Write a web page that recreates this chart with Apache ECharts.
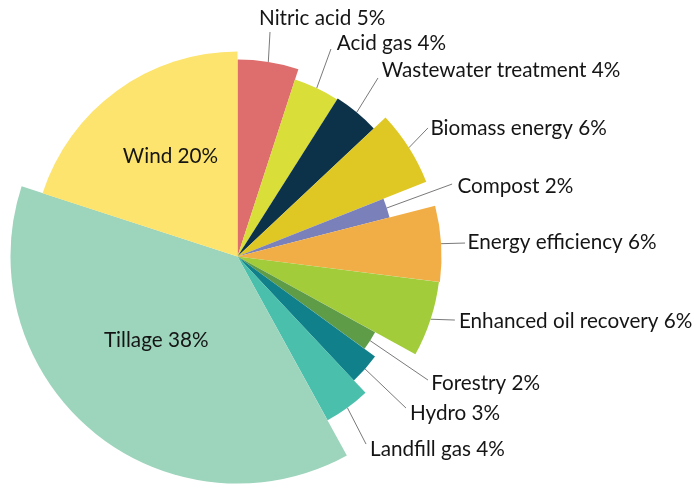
<!DOCTYPE html>
<html>
<head>
<meta charset="utf-8">
<script src="https://cdn.jsdelivr.net/npm/echarts@6/dist/echarts.min.js"></script>
<style>
  html, body { margin: 0; padding: 0; background: #ffffff; }
  #chart { width: 693px; height: 484px; }
</style>
</head>
<body>
<div id="chart"></div>
<script>
// Sources, clockwise from 12 o'clock, with their share in percent
const categories = [
  'Nitric acid', 'Acid gas', 'Wastewater treatment', 'Biomass energy',
  'Compost', 'Energy efficiency', 'Enhanced oil recovery', 'Forestry',
  'Hydro', 'Landfill gas', 'Tillage', 'Wind'
];
const shares = [5, 4, 4, 6, 2, 6, 6, 2, 3, 4, 38, 20];

// Styling: slice colours, outer radius of each slice (px)
const sliceColors = [
  '#de6e6e', '#d9de38', '#0c324a', '#dfc724',
  '#7a80b9', '#f2ae46', '#a2cc3a', '#5e9c48',
  '#10808a', '#4ac0ac', '#9cd4bc', '#fce46e'
];
const sliceRadius = [197, 186, 187, 203, 157, 204, 203, 157, 170, 187, 227, 205];
const insideLabel = [false, false, false, false, false, false, false, false, false, false, true, true];
// Label nudges [dx, dy] from the default label position
const labelNudge = [
  [-19, -13.5], [-2.5, -7.8], [-5.5, -11.6], [-3.7, -6.1], [-1, 0], [-1.5, 0],
  [0.5, -5.6], [-3, 4.7], [-2.8, 6.9], [-5.9, 9.1], [-7, -6], [-5, -14.5]
];
// Where each leader line stops, relative to its label's left-middle point
const lineTip = [
  [11, 13.2], [-5.7, 5.7], [-3.7, 8], [-2.5, -0.8], [-5.3, -2.3], [-2.5, 0.8],
  [-4, -1], [-3.2, -2.8], [-4, -5.5], [-4, -5.2], null, null
];
const labelLineEnd = 227; // radius where default leader lines stop

const CENTER = [237.5, 256.5];
const FONT = 'Lato, "Open Sans", sans-serif';

const chart = echarts.init(document.getElementById('chart'), null, { renderer: 'canvas' });

// One pie per slice so every slice can have its own radius;
// the other slices of that pie are left transparent.
const series = categories.map((cat, i) => ({
  type: 'pie',
  center: CENTER,
  radius: [0, sliceRadius[i]],
  startAngle: 90,
  clockwise: true,
  avoidLabelOverlap: false,
  silent: true,
  animation: false,
  z: 2,
  label: { show: false },
  labelLine: { show: false },
  data: categories.map((name, j) => {
    if (j !== i) {
      return {
        name, value: shares[j],
        itemStyle: { color: 'rgba(0,0,0,0)' },
        label: { show: false }, labelLine: { show: false }
      };
    }
    return {
      name, value: shares[j],
      itemStyle: { color: sliceColors[j], borderWidth: 0 },
      label: {
        show: true,
        position: insideLabel[j] ? 'inside' : 'outside',
        formatter: '{b} {c}%',
        color: '#151515',
        fontFamily: FONT,
        fontSize: 20.7,
        distanceToLabelLine: 5
      },
      labelLine: {
        show: !insideLabel[j],
        length: labelLineEnd - sliceRadius[j],
        length2: 0,
        smooth: false,
        lineStyle: { color: '#7a7a7a', width: 1 }
      }
    };
  }),
  labelLayout: (p) => {
    const nudge = labelNudge[i];
    const rect = p.labelRect;
    const x = (insideLabel[i] ? rect.x + rect.width / 2 : rect.x) + nudge[0];
    const y = rect.y + rect.height / 2 + nudge[1];
    const out = { x, y };
    if (p.labelLinePoints && lineTip[i]) {
      const start = p.labelLinePoints[0];
      out.labelLinePoints = [
        [start[0], start[1]],
        [x + lineTip[i][0], y + lineTip[i][1]]
      ];
    }
    return out;
  }
}));

chart.setOption({
  backgroundColor: '#ffffff',
  animation: false,
  series
});
</script>
</body>
</html>
